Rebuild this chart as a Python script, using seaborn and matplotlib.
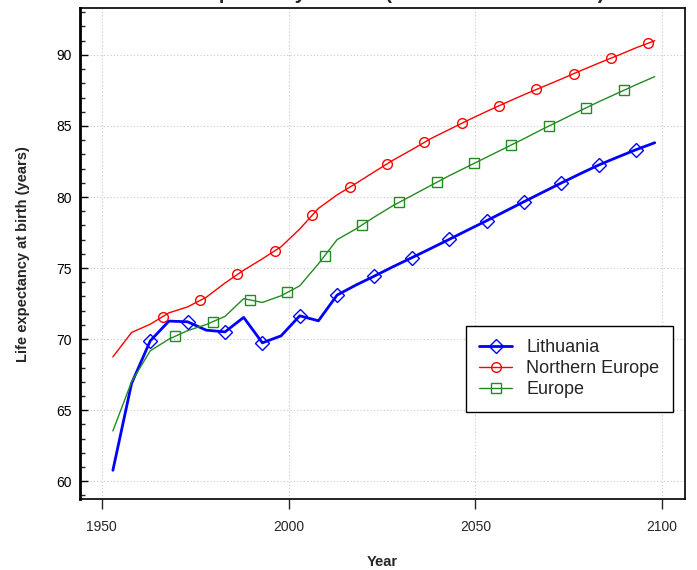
import numpy as np
import pandas as pd
import matplotlib
matplotlib.use("Agg")
import matplotlib.pyplot as plt
from matplotlib.lines import Line2D
from matplotlib.ticker import MultipleLocator
import seaborn as sns

# Dati: aspettativa di vita alla nascita (medie quinquennali, punto centrale)
years = list(range(1953, 2099, 5))
lithuania = [60.77, 66.88, 69.88, 71.27, 71.22, 70.63, 70.51, 71.53, 69.74, 70.23,
             71.64, 71.29, 73.10, 73.80, 74.44, 75.10, 75.73, 76.37, 77.02, 77.68,
             78.33, 79.00, 79.67, 80.33, 80.99, 81.63, 82.25, 82.80, 83.33, 83.82]
northern_europe = [68.75, 70.47, 71.05, 71.85, 72.27, 72.95, 73.95, 74.85, 75.65, 76.50,
                   77.75, 79.20, 80.15, 80.95, 81.78, 82.60, 83.33, 84.10, 84.75, 85.40,
                   86.02, 86.62, 87.20, 87.75, 88.30, 88.87, 89.42, 89.95, 90.50, 91.00]
europe = [63.54, 67.00, 69.18, 70.00, 70.60, 71.03, 71.60, 72.85, 72.58, 73.05,
          73.75, 75.30, 77.00, 77.75, 78.60, 79.40, 80.10, 80.80, 81.50, 82.15,
          82.80, 83.45, 84.10, 84.78, 85.42, 86.07, 86.70, 87.30, 87.90, 88.47]

regions = ["Lithuania", "Northern Europe", "Europe"]
series = {"Lithuania": lithuania, "Northern Europe": northern_europe, "Europe": europe}

palette = {"Lithuania": "#0000FF", "Northern Europe": "#FF0000", "Europe": "#228B22"}
widths = {"Lithuania": 2.0, "Northern Europe": 1.0, "Europe": 1.0}
markers = {"Lithuania": "D", "Northern Europe": "o", "Europe": "s"}
msizes = {"Lithuania": 7.0, "Northern Europe": 7.0, "Europe": 6.5}
# i marcatori sono sfalsati tra le serie (ogni 10 anni)
mk_start = {"Lithuania": 1963, "Northern Europe": 1966.33, "Europe": 1969.67}

df = pd.concat([pd.DataFrame({"Year": years, "Value": v, "Region": r})
                for r, v in series.items()], ignore_index=True)

sns.set_style("white")
plt.rcParams["font.family"] = ["Liberation Sans", "DejaVu Sans"]

fig = plt.figure(figsize=(6.97, 5.7), dpi=100)
ax = fig.add_axes([80 / 697, 1 - 499.3 / 570, 605 / 697, 491.3 / 570])

sns.lineplot(data=df, x="Year", y="Value", hue="Region", size="Region",
             hue_order=regions, palette=palette, sizes=widths, legend=False,
             sort=False, ax=ax)

for r in regions:
    mk_years = np.arange(mk_start[r], years[-1], 10)
    mk_vals = np.interp(mk_years, years, series[r])
    ax.plot(mk_years, mk_vals, linestyle="none", marker=markers[r],
            markerfacecolor="none", markeredgecolor=palette[r],
            markersize=msizes[r], markeredgewidth=1.0)

ax.set_xlim(1944.2, 2106.1)
ax.set_ylim(58.73, 93.3)
ax.set_xticks([1950, 2000, 2050, 2100])
ax.set_yticks([60, 65, 70, 75, 80, 85, 90])
ax.yaxis.set_minor_locator(MultipleLocator(1))

ax.grid(True, which="major", linestyle=(0, (1, 2)), color="#c8c8c8", linewidth=0.8)
ax.tick_params(axis="y", which="major", direction="in", length=6, width=1,
               left=True, labelsize=10, pad=6, colors="black")
ax.tick_params(axis="y", which="minor", direction="in", length=3.5, width=1, left=True)
ax.tick_params(axis="x", which="major", direction="out", length=7.2, width=1,
               bottom=True, labelsize=10, pad=8)

for side, sp in ax.spines.items():
    sp.set_visible(True)
    sp.set_color("black")
    sp.set_linewidth(1.2)
ax.spines["left"].set_linewidth(2)

ax.set_xlabel("Year", fontsize=10.5, fontweight="bold", labelpad=15)
ax.set_ylabel("Life expectancy at birth (years)", fontsize=10.5, fontweight="bold",
              labelpad=19)

handles = [Line2D([], [], color=palette[r], lw=widths[r], marker=markers[r],
                  markerfacecolor="none", markeredgecolor=palette[r],
                  markersize=msizes[r]) for r in regions]
leg = ax.legend(handles, regions, loc="lower right", bbox_to_anchor=(0.98, 0.178),
                borderaxespad=0, fontsize=13, frameon=True, fancybox=False,
                framealpha=1, edgecolor="black", handlelength=1.8,
                handletextpad=0.8, labelspacing=0.22, borderpad=0.75)
leg.get_frame().set_linewidth(1.0)

fig.text(0.545, 1 + 1.0 / 570, "Life expectancy at birth (both sexes combined)",
         ha="center", va="baseline", fontsize=14.5, fontweight="bold")

fig.savefig("out.png", dpi=100)
